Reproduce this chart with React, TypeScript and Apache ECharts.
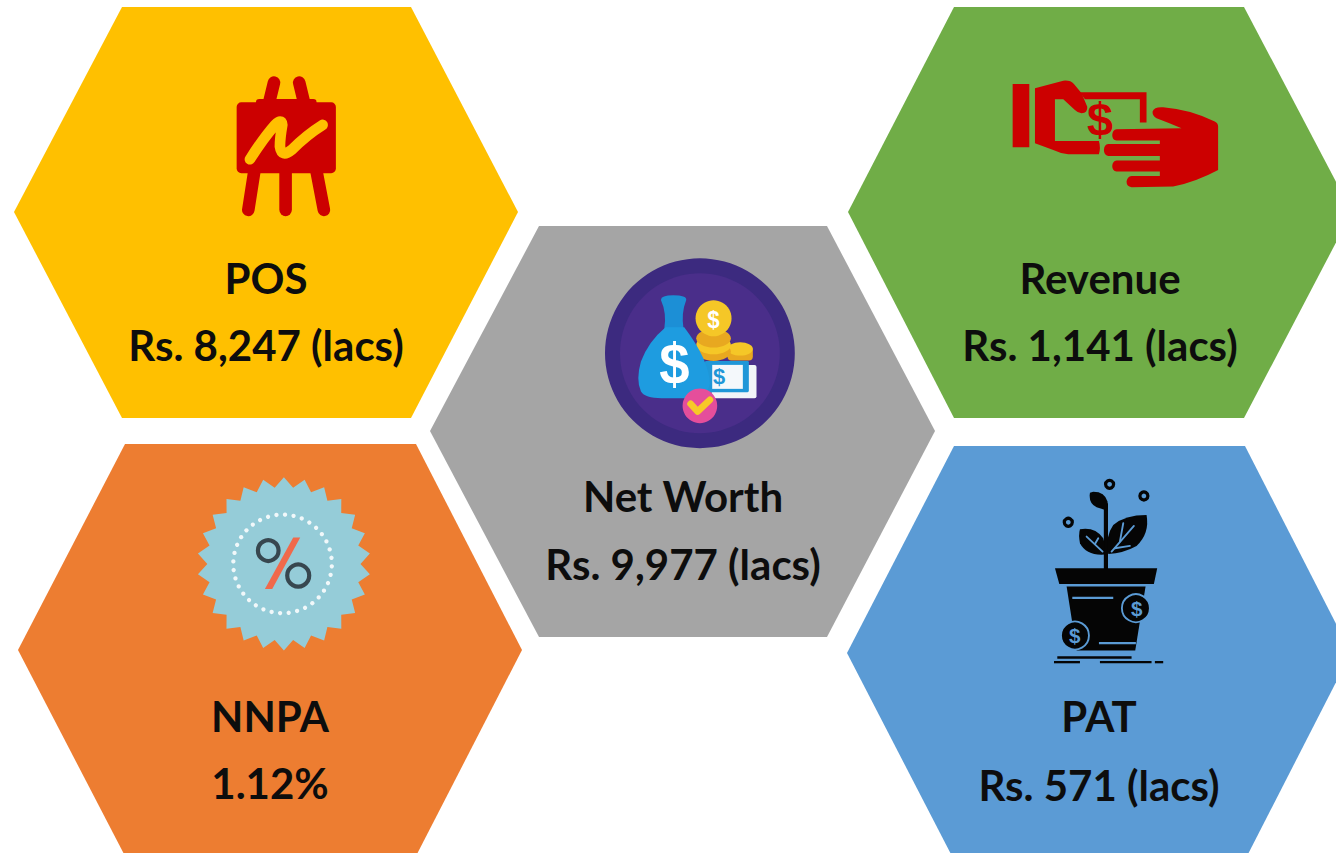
import React, { useEffect, useRef } from "react";
import * as echarts from "echarts";

const metricNames = ["POS", "Revenue", "Net Worth", "NNPA", "PAT"];
const metricValues = ["Rs. 8,247 (lacs)", "Rs. 1,141 (lacs)", "Rs. 9,977 (lacs)", "1.12%", "Rs. 571 (lacs)"];
const hexColors = ["#FFC000", "#70AD47", "#A5A5A5", "#ED7D31", "#5B9BD5"];

const hexBoxes = [
  { l: 14, tl: 122, tr: 411, r: 518, t: 7, m: 212, b: 418, cx: 266, y1: 278, y2: 345 },
  { l: 848, tl: 954, tr: 1244, r: 1352, t: 7, m: 212, b: 418, cx: 1100, y1: 278, y2: 345 },
  { l: 430, tl: 539, tr: 827, r: 935, t: 226, m: 431, b: 637, cx: 683, y1: 496, y2: 564 },
  { l: 18, tl: 125, tr: 416, r: 522, t: 444, m: 650, b: 856, cx: 270, y1: 716, y2: 783 },
  { l: 847, tl: 954, tr: 1245, r: 1351, t: 446, m: 653, b: 860, cx: 1099, y1: 716, y2: 785 },
];

const RED = "#CC0000";
const FONT = "Lato";

const leftHand = "M105 55 L190 32 Q212 30 222 42 L245 70 L262 110 Q264 128 245 130 Q235 130 225 120 L190 88 L165 88 L165 213 L297 213 Q303 233 297 253 L205 253 Q180 250 160 240 L105 220 Z";
const rightHand = "M458 125 Q463 110 490 112 Q570 118 645 155 Q655 160 655 170 L655 300 Q590 335 520 350 L395 352 Q380 350 380 335 Q382 320 395 318 L480 318 L480 305 L350 305 Q337 302 337 288 Q338 274 350 272 L480 272 L480 258 L325 258 Q312 255 312 240 Q313 224 325 222 L480 222 L480 212 L350 212 Q337 210 337 195 Q338 180 350 178 L545 175 Q510 160 470 145 Q458 138 458 125 Z";
const billFrame = "M240 67 L440 67 L440 158 L420 158 L420 88 L255 88 Z";
const squiggle = "M90 268 Q130 205 165 165 Q185 145 187 165 Q180 205 180 230 Q185 265 215 240 Q260 195 308 165";
const bagBody = "M212 232 Q160 275 138 335 Q122 390 138 425 Q150 445 200 445 L290 445 Q338 442 345 400 Q342 330 268 232 Z";
const bagNeck = "M198 150 Q198 136 235 136 Q275 136 274 150 Q258 190 266 238 L208 238 Q216 190 198 150 Z";
const potBody = "M110 350 L347 350 L316 542 L140 542 Z";
const topBud = "M233 122 L233 95 Q225 65 190 65 L180 68 Q175 100 200 112 Z";
const rightLeaf = "M235 252 Q225 200 250 165 Q285 135 350 135 Q360 190 320 228 Q280 250 235 252 Z";
const leftLeaf = "M224 254 Q170 258 150 220 Q145 195 150 178 Q195 170 220 205 Q228 230 224 254 Z";

echarts.graphic.registerShape("leftHand", echarts.graphic.extendPath(leftHand, {}) as any);
echarts.graphic.registerShape("rightHand", echarts.graphic.extendPath(rightHand, {}) as any);
echarts.graphic.registerShape("billFrame", echarts.graphic.extendPath(billFrame, {}) as any);
echarts.graphic.registerShape("squiggle", echarts.graphic.extendPath(squiggle, {}) as any);
echarts.graphic.registerShape("bagBody", echarts.graphic.extendPath(bagBody, {}) as any);
echarts.graphic.registerShape("bagNeck", echarts.graphic.extendPath(bagNeck, {}) as any);
echarts.graphic.registerShape("potBody", echarts.graphic.extendPath(potBody, {}) as any);
echarts.graphic.registerShape("topBud", echarts.graphic.extendPath(topBud, {}) as any);
echarts.graphic.registerShape("rightLeaf", echarts.graphic.extendPath(rightLeaf, {}) as any);
echarts.graphic.registerShape("leftLeaf", echarts.graphic.extendPath(leftLeaf, {}) as any);

const SW = 1.4;
const ln = (x1: number, y1: number, x2: number, y2: number, stroke: string, lineWidth: number, lineCap = "round") => ({
  type: "line", shape: { x1, y1, x2, y2 }, style: { stroke, lineWidth: lineWidth * SW, lineCap },
});
const circ = (cx: number, cy: number, r: number, fill: string, stroke?: string, lineWidth = 0) => ({
  type: "circle", shape: { cx, cy, r }, style: { fill, stroke, lineWidth: lineWidth * SW },
});
const rect = (x: number, y: number, width: number, height: number, fill: string, r = 0) => ({
  type: "rect", shape: { x, y, width, height, r }, style: { fill },
});
const poly = (points: number[][], fill: string) => ({ type: "polygon", shape: { points }, style: { fill } });
const dollar = (x: number, y: number, size: number, fill: string, scaleX = 1) => ({
  type: "text", x, y, scaleX,
  style: { text: "$", fontSize: size, fontWeight: "bold", fontFamily: "Liberation Sans", fill, align: "center", verticalAlign: "middle" },
});
const icon = (x: number, y: number, children: any[]) => ({ type: "group", x, y, scaleX: 1 / 3, scaleY: 1 / 3, children });

const easel = icon(220, 70, [
  ln(162, 38, 147, 100, RED, 27),
  ln(238, 38, 253, 100, RED, 27),
  ln(103, 305, 85, 420, RED, 27),
  ln(197, 305, 197, 420, RED, 27),
  ln(290, 305, 312, 420, RED, 27),
  rect(50, 97, 298, 213, RED, 14),
  rect(108, 87, 182, 30, RED, 10),
  { type: "squiggle", style: { fill: "none", stroke: "#FFC000", lineWidth: 32, lineCap: "round", lineJoin: "round" } },
]);

const hands = icon(1000, 70, [
  rect(38, 42, 50, 190, RED),
  { type: "billFrame", style: { fill: RED } },
  { type: "leftHand", style: { fill: RED } },
  { type: "rightHand", style: { fill: RED } },
  dollar(300, 150, 140, RED),
]);

const moneyBag = icon(595, 250, [
  circ(315, 310, 285, "#3C2A7F"),
  circ(315, 310, 240, "#4A2E8A"),
  rect(350, 345, 135, 100, "#F2F4F8", 6),
  rect(330, 333, 132, 94, "#1F97D8", 4),
  rect(352, 345, 92, 72, "#F4F8FB"),
  dollar(372, 378, 66, "#1F97D8"),
  rect(398, 290, 76, 42, "#E8A820", 12),
  { type: "ellipse", shape: { cx: 436, cy: 297, rx: 38, ry: 20 }, style: { fill: "#F5C727" } },
  { type: "ellipse", shape: { cx: 356, cy: 305, rx: 52, ry: 28 }, style: { fill: "#E8A820" } },
  { type: "ellipse", shape: { cx: 356, cy: 285, rx: 52, ry: 28 }, style: { fill: "#F5C727" } },
  { type: "ellipse", shape: { cx: 356, cy: 265, rx: 52, ry: 28 }, style: { fill: "#E8A820" } },
  circ(356, 205, 54, "#F5C727"),
  dollar(355, 208, 74, "#FFFFFF", 0.9),
  { type: "bagNeck", style: { fill: "#1C8FD6" } },
  { type: "bagBody", style: { fill: "#1E9CE0" } },
  { ...dollar(238, 342, 172, "#FFFFFF", 0.95) },
  circ(315, 468, 52, "#E54E9B"),
  { type: "polyline", shape: { points: [[287, 462], [308, 485], [345, 450]] }, style: { fill: "none", stroke: "#F7C928", lineWidth: 20, lineCap: "round", lineJoin: "round" } },
]);

const STAR_POINTS = 26;
const starVertices: number[][] = [];
for (let i = 0; i < STAR_POINTS * 2; i++) {
  const a = (Math.PI * i) / STAR_POINTS - Math.PI / 2;
  const r = i % 2 === 0 ? 260 : 230;
  starVertices.push([297 + r * Math.cos(a), 297 + r * Math.sin(a)]);
}
const dots: any[] = [];
for (let i = 0; i < 36; i++) {
  const a = (2 * Math.PI * i) / 36 + 0.05;
  dots.push(circ(293 + 148 * Math.cos(a), 297 + 148 * Math.sin(a), 6.5, "#F1F8FA"));
}
const badge = icon(185, 465, [
  poly(starVertices, "#95CCD8"),
  ...dots,
  poly([[325, 218], [346, 218], [262, 372], [240, 372]], "#F0694B"),
  circ(250, 257, 31, "none", "#37474F", 9),
  circ(340, 332, 33, "none", "#37474F", 9),
]);

const BG = "#5B9BD5";
const K = "#050505";
const plant = icon(1030, 470, [
  circ(239, 43, 12, "none", K, 7),
  circ(342, 78, 12, "none", K, 7),
  circ(115, 157, 12, "none", K, 7),
  ln(228, 100, 228, 300, K, 9, "butt"),
  { type: "topBud", style: { fill: K } },
  { type: "rightLeaf", style: { fill: K } },
  { type: "leftLeaf", style: { fill: K } },
  ln(245, 245, 312, 168, BG, 4),
  ln(270, 215, 280, 160, BG, 4),
  ln(255, 235, 300, 228, BG, 4),
  ln(218, 245, 170, 200, BG, 4),
  ln(195, 222, 205, 205, BG, 4),
  poly([[75, 295], [382, 295], [372, 342], [88, 342]], K),
  { type: "potBody", style: { fill: K } },
  ln(127, 384, 250, 384, BG, 5, "butt"),
  ln(207, 520, 318, 520, BG, 5, "butt"),
  circ(318, 415, 42, K, BG, 4),
  dollar(320, 415, 62, BG),
  circ(135, 497, 42, K, BG, 4),
  dollar(134, 497, 62, BG),
  ln(82, 563, 305, 563, K, 5, "butt"),
  ln(72, 577, 150, 577, K, 5, "butt"),
  ln(210, 577, 365, 577, K, 5, "butt"),
  ln(375, 577, 400, 577, K, 5, "butt"),
]);

const textEl = (text: string, x: number, y: number) => ({
  type: "text", x, y,
  style: { text, fontSize: 42, fontWeight: "bold", fontFamily: FONT, fill: "#0D0D0D", align: "center", verticalAlign: "middle" },
});

export default function App() {
  const ref = useRef<HTMLDivElement>(null);
  useEffect(() => {
    document.body.style.margin = "0";
    const chart = echarts.init(ref.current!, null, { renderer: "svg" });
    const hexes = hexBoxes.map((b, i) => ({
      type: "polygon",
      shape: { points: [[b.l, b.m], [b.tl, b.t], [b.tr, b.t], [b.r, b.m], [b.tr, b.b], [b.tl, b.b]] },
      style: { fill: hexColors[i] },
    }));
    const texts = hexBoxes.flatMap((b, i) => [
      textEl(metricNames[i], b.cx, b.y1),
      textEl(metricValues[i], b.cx, b.y2),
    ]);
    chart.setOption({
      animation: false,
      backgroundColor: "#FFFFFF",
      graphic: { elements: [...hexes, easel, hands, moneyBag, badge, plant, ...texts] },
    });
    return () => chart.dispose();
  }, []);
  return <div ref={ref} style={{ width: 1336, height: 853 }} />;
}
